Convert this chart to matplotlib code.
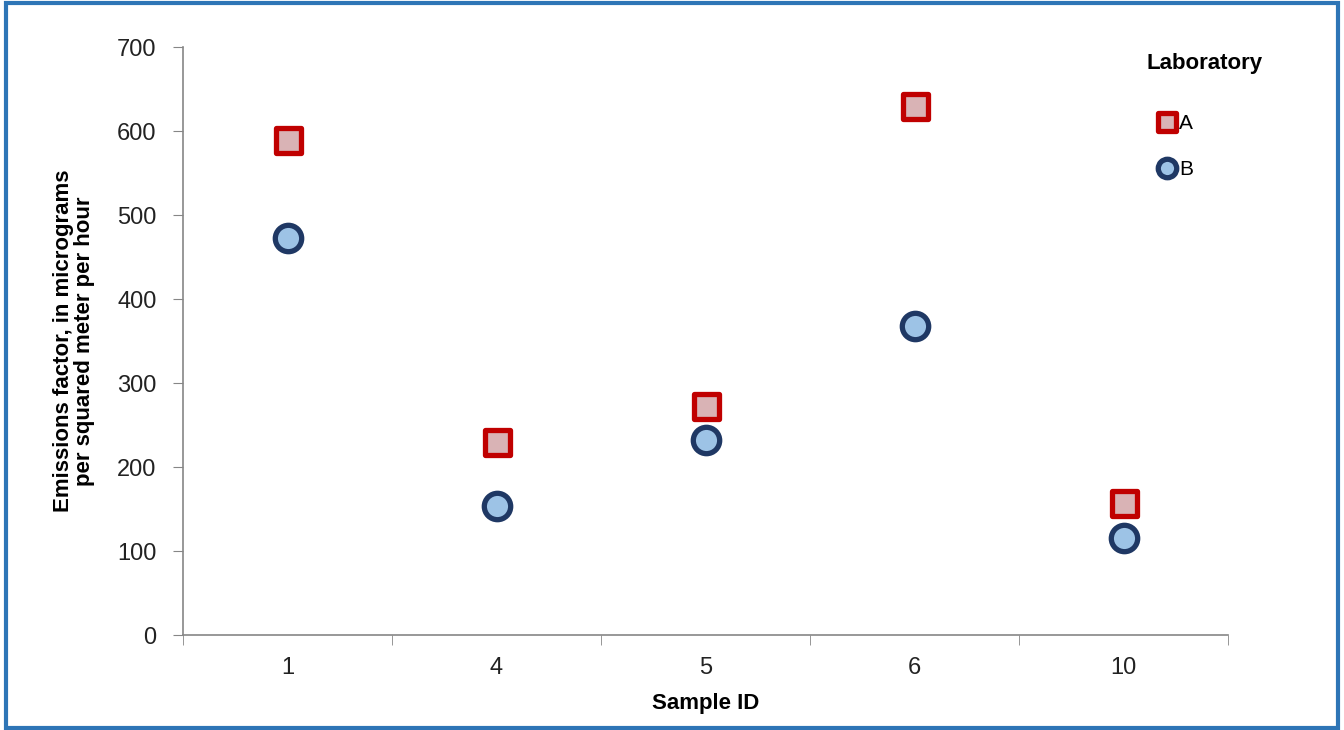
import matplotlib.pyplot as plt
from matplotlib.markers import MarkerStyle
from matplotlib.patches import Rectangle

plt.rcParams['font.family'] = ['Liberation Sans', 'DejaVu Sans']

# emissions factor, micrograms per m2 per hour
samples = ['1', '4', '5', '6', '10']
lab_a = [589, 230, 273, 630, 157]
lab_b = [473, 154, 232, 368, 115]

fig = plt.figure(figsize=(13.44, 7.30), dpi=100)
ax = fig.add_axes([0.1362, 0.1301, 0.7775, 0.8055])

x = list(range(len(samples)))
la, = ax.plot(x, lab_a, linestyle='none', marker=MarkerStyle('s', joinstyle='round'),
              ms=18, mew=3.8, mec='#C00000', mfc='#D9B3B5', label='A')
lb, = ax.plot(x, lab_b, linestyle='none', marker='o', ms=19, mew=3.8,
              mec='#1F3864', mfc='#9DC3E6', label='B')

ax.set_xlim(-0.5, len(samples) - 0.5)
ax.set_ylim(0, 700)
ax.set_yticks(range(0, 701, 100))
ax.set_xticks(x)
ax.set_xticklabels(samples)
ax.set_xticks([i - 0.5 for i in range(len(samples) + 1)], minor=True)
ax.tick_params(axis='x', which='major', length=0, pad=16, labelsize=17,
               labelcolor='#222222')
ax.tick_params(axis='x', which='minor', length=7, color='#868686', direction='out')
ax.tick_params(axis='y', length=7, color='#868686', labelsize=17, pad=12,
               labelcolor='#222222')

for s in ['top', 'right']:
    ax.spines[s].set_visible(False)
for s in ['left', 'bottom']:
    ax.spines[s].set_color('#868686')
    ax.spines[s].set_linewidth(1.2)

ax.set_xlabel('Sample ID', fontsize=16, fontweight='bold', labelpad=10)
ax.set_ylabel('Emissions factor, in micrograms\nper squared meter per hour',
              fontsize=16, fontweight='bold', labelpad=16, linespacing=1.0)

# legend title drawn separately so entries can sit indented under it
fig.text(1146 / 1344, 1 - 63 / 730, 'Laboratory', fontsize=16,
         fontweight='bold', ha='left', va='center')
fig.legend(handles=[la, lb], loc='upper left',
           bbox_to_anchor=(1159 / 1344, 1 - 114 / 730), frameon=False,
           fontsize=15, markerscale=0.7, handlelength=0.8, handletextpad=0.15,
           labelspacing=1.3, borderpad=0, borderaxespad=0)

fig.patches.append(Rectangle((6 / 1344, 2 / 730), 1332 / 1344, 725 / 730,
                             transform=fig.transFigure, fill=False,
                             edgecolor='#2E75B6', linewidth=3))

fig.savefig('out.png', dpi=100)
